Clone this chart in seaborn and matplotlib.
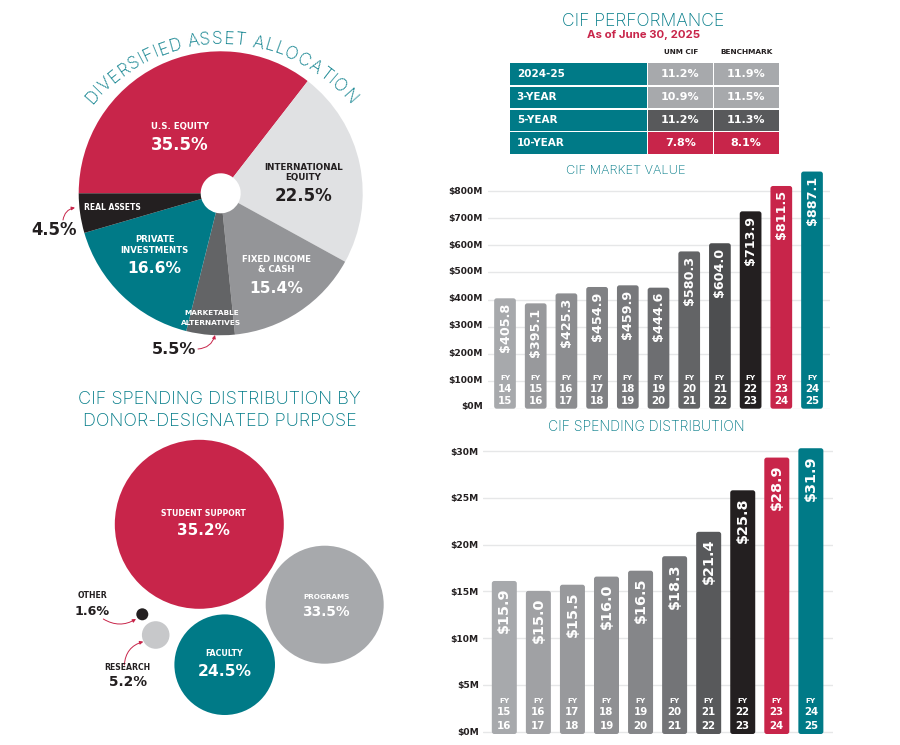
import matplotlib
matplotlib.use("Agg")
import matplotlib.pyplot as plt
import seaborn as sns
import pandas as pd
import numpy as np
from matplotlib.patches import FancyBboxPatch, FancyArrowPatch, Rectangle
from matplotlib.textpath import TextPath
from matplotlib.font_manager import FontProperties
from matplotlib.transforms import ScaledTranslation

# ---- data ----
asset_names = ['U.S. Equity', 'International Equity', 'Fixed Income & Cash',
               'Marketable Alternatives', 'Private Investments', 'Real Assets']
asset_pct = [35.5, 22.5, 15.4, 5.5, 16.6, 4.5]

perf_rows = ['2024-25', '3-YEAR', '5-YEAR', '10-YEAR']
perf_cif = ['11.2%', '10.9%', '11.2%', '7.8%']
perf_bench = ['11.9%', '11.5%', '11.3%', '8.1%']

market_fy_a = ['14', '15', '16', '17', '18', '19', '20', '21', '22', '23', '24']
market_fy_b = ['15', '16', '17', '18', '19', '20', '21', '22', '23', '24', '25']
market_labels = ['$405.8', '$395.1', '$425.3', '$454.9', '$459.9', '$444.6',
                 '$580.3', '$604.0', '$713.9', '$811.5', '$887.1']
# heights as drawn in the reference, which differ a little from the printed labels
market_heights = [405, 386.5, 423, 446.5, 452.6, 444, 577, 607, 724, 817, 870]
market_ticks = [0, 100, 200, 300, 400, 500, 600, 700, 800]

spend_fy_a = ['15', '16', '17', '18', '19', '20', '21', '22', '23', '24']
spend_fy_b = ['16', '17', '18', '19', '20', '21', '22', '23', '24', '25']
spend_labels = ['$15.9', '$15.0', '$15.5', '$16.0', '$16.5', '$18.3',
                '$21.4', '$25.8', '$28.9', '$31.9']
spend_heights = [16.1, 15.04, 15.7, 16.57, 17.2, 18.75, 21.36, 25.8, 29.3, 30.3]
spend_ticks = [0, 5, 10, 15, 20, 25, 30]

purpose_names = ['STUDENT SUPPORT', 'PROGRAMS', 'FACULTY', 'RESEARCH', 'OTHER']
purpose_pct = ['35.2%', '33.5%', '24.5%', '5.2%', '1.6%']

# ---- colours ----
crimson = '#c8254a'
teal = '#007a87'
ink = '#231f20'
title_teal = '#007a87'
asset_colors = [crimson, '#e0e1e3', '#949598', '#636466', teal, ink]
market_colors = ['#a7a9ac', '#98999c', '#8c8d90', '#808184', '#77787b', '#6d6e71',
                 '#636466', '#4d4e50', ink, crimson, teal]
spend_colors = ['#a7a9ac', '#a0a1a4', '#98999c', '#8f9093', '#858689', '#737477',
                '#58595b', ink, crimson, teal]

sns.set_style("whitegrid")
plt.rcParams['font.family'] = ['DejaVu Sans']
plt.rcParams['grid.color'] = '#e6e7e8'
plt.rcParams['grid.linewidth'] = 1.0

W, H = 900, 745
fig = plt.figure(figsize=(W / 100, H / 100), dpi=100)


def px_axes(left, top, right, bottom):
    return fig.add_axes([left / W, 1 - bottom / H, (right - left) / W, (bottom - top) / H])


# ---- pie ----
cx, cy, radius = 220.7, 193.3, 142
ax_pie = px_axes(cx - radius, cy - radius, cx + radius, cy + radius)
ax_pie.pie(asset_pct, colors=asset_colors, startangle=180, counterclock=False, radius=1,
           wedgeprops=dict(width=1 - 20 / radius, linewidth=0))
ax_pie.set_xlim(-1, 1)
ax_pie.set_ylim(-1, 1)


# ---- bar charts ----
def bar_chart(rect, fy_a, fy_b, labels, heights, colors, ticks, ylim, xlim, width,
              tick_fmt, label_size, label_pad, fy_offsets, tick_pad, tick_nudge=None):
    ax = px_axes(*rect)
    df = pd.DataFrame({'year': [f'FY{a}-{b}' for a, b in zip(fy_a, fy_b)], 'value': heights})
    sns.barplot(data=df, x='year', y='value', hue='year', palette=colors, legend=False,
                dodge=False, width=width, ax=ax, saturation=1)
    ax.set_xlim(*xlim)
    ax.set_ylim(*ylim)
    ax.set_xlabel('')
    ax.set_ylabel('')
    ax.set_xticks([])
    ax.set_yticks(ticks)
    ax.set_yticklabels([tick_fmt.format(t) for t in ticks], fontsize=6.6, fontweight='bold', color=ink)
    ax.tick_params(axis='y', length=0, pad=tick_pad)
    ax.grid(True, axis='y')
    ax.grid(False, axis='x')
    ax.set_axisbelow(True)
    sns.despine(ax=ax, left=True, bottom=True)
    ax.patch.set_alpha(0)

    # swap the square bars for rounded ones
    x_per_px = (xlim[1] - xlim[0]) / (rect[2] - rect[0])
    y_per_px = (ylim[1] - ylim[0]) / (rect[3] - rect[1])
    for bar in list(ax.patches):
        x0, w, h = bar.get_x(), bar.get_width(), bar.get_height()
        rounded = FancyBboxPatch((x0, ylim[0]), w, h - ylim[0],
                                 boxstyle=f'round,pad=0,rounding_size={2.5 * x_per_px}',
                                 mutation_aspect=y_per_px / x_per_px,
                                 facecolor=bar.get_facecolor(), edgecolor='none', zorder=3)
        ax.add_patch(rounded)
        bar.remove()

    for i in range(len(labels)):
        ax.annotate(labels[i], xy=(i, heights[i]), xytext=(0, -label_pad), textcoords='offset points',
                    rotation=90, ha='center', va='top', color='white', fontsize=label_size,
                    fontweight='bold', zorder=4)
        ax.annotate('FY', xy=(i, ylim[0]), xytext=(0, fy_offsets[0]), textcoords='offset points',
                    ha='center', va='center', color='white', fontsize=5.2, fontweight='bold', zorder=4)
        ax.annotate(fy_a[i], xy=(i, ylim[0]), xytext=(0, fy_offsets[1]), textcoords='offset points',
                    ha='center', va='center', color='white', fontsize=7.4, fontweight='bold', zorder=4)
        ax.annotate(fy_b[i], xy=(i, ylim[0]), xytext=(0, fy_offsets[2]), textcoords='offset points',
                    ha='center', va='center', color='white', fontsize=7.4, fontweight='bold', zorder=4)

    if tick_nudge:
        for lab, dy in zip(ax.get_yticklabels(), tick_nudge):
            lab.set_transform(lab.get_transform() + ScaledTranslation(0, dy / 100, fig.dpi_scale_trans))
    return ax


bar_chart((488, 165, 830, 408.7), market_fy_a, market_fy_b, market_labels, market_heights,
          market_colors, market_ticks, (0, 894), (-0.554, 10.586), 0.707, '${}M', 9.2, 3,
          (21.8, 14.2, 5.5), 3.6, tick_nudge=[3, 2.3, 2, 2, 1.7, 2, 0.7, 0, 0])
bar_chart((483.3, 440, 833, 734), spend_fy_a, spend_fy_b, spend_labels, spend_heights,
          spend_colors, spend_ticks, (-0.267, 31.18), (-0.617, 9.65), 0.734, '${}M', 10.4, 5,
          (24, 15.6, 5.8), 3.3)

# ---- everything placed in reference pixels goes on a full-figure overlay ----
ov = fig.add_axes([0, 0, 1, 1], zorder=10)
ov.set_xlim(0, W)
ov.set_ylim(H, 0)
ov.axis('off')
ov.patch.set_alpha(0)


def label(x, y, s, size=6, color='white', weight='bold', **kw):
    ov.text(x, y, s, fontsize=size, color=color, fontweight=weight, ha=kw.pop('ha', 'center'),
            va='center', **kw)


def title(x, y, s, size, color=title_teal, weight='light'):
    ov.text(x, y, s, fontsize=size, color=color, fontweight=weight, family='Inter',
            ha='center', va='center')


def arrow(start, end, rad):
    ov.add_patch(FancyArrowPatch(start, end, connectionstyle=f'arc3,rad={rad}', arrowstyle='-|>',
                                 mutation_scale=5, color=crimson, lw=0.7, shrinkA=0, shrinkB=0))


# curved title around the pie
curve_text = 'DIVERSIFIED ASSET ALLOCATION'
curve_size = 12.5
curve_fp = FontProperties(family='Inter', weight='light', size=curve_size)
arc_cx, arc_cy, arc_r = 220.7, 210, 166
xx_w = TextPath((0, 0), 'xx', prop=curve_fp).get_extents().width
adv = np.array([TextPath((0, 0), 'x' + c + 'x', prop=curve_fp).get_extents().width - xx_w
                for c in curve_text])
adv = adv / adv.sum() * np.radians(102)
angles = np.cumsum(adv) - adv / 2 - np.radians(51)
for ch, th in zip(curve_text, angles):
    ov.text(arc_cx + arc_r * np.sin(th), arc_cy - arc_r * np.cos(th), ch, fontsize=curve_size,
            family='Inter', fontweight='light', color=title_teal, rotation=-np.degrees(th),
            rotation_mode='anchor', ha='center', va='baseline')

# pie labels
label(180, 127, 'U.S. EQUITY', 6.2)
label(180, 145.3, f'{asset_pct[0]}%', 12)
label(303.3, 167, 'INTERNATIONAL', 6.3, color=ink)
label(303.3, 177.7, 'EQUITY', 6.3, color=ink)
label(303.3, 195.7, f'{asset_pct[1]}%', 12, color=ink)
label(276.7, 259.3, 'FIXED INCOME', 6.1)
label(276.7, 270, '& CASH', 6.1)
label(276.7, 288.3, f'{asset_pct[2]}%', 11.2)
label(212, 312.7, 'MARKETABLE', 5.3)
label(211, 322.7, 'ALTERNATIVES', 5.3)
label(174.3, 350, f'{asset_pct[3]}%', 11.5, color=ink)
label(154.7, 239.7, 'PRIVATE', 6.1)
label(154.7, 250.3, 'INVESTMENTS', 6.1)
label(154.7, 268.3, f'{asset_pct[4]}%', 11.2)
label(112.3, 208, 'REAL ASSETS', 5.5)
label(54.3, 230, f'{asset_pct[5]}%', 11.9, color=ink)
arrow((63, 220), (75, 207.7), -0.35)
arrow((198, 349), (215, 335), 0.35)

# performance table
title(642.8, 21.5, 'CIF PERFORMANCE', 12.6)
title(643.3, 35.5, 'As of June 30, 2025', 8.2, color=crimson, weight='bold')
label(681, 52.3, 'UNM CIF', 5.2, color=ink)
label(746.3, 52.3, 'BENCHMARK', 5.3, color=ink)
row_tops = [63.3, 86.7, 109.7, 132.3]
row_bottoms = [84.7, 108, 131, 154]
row_fill = ['#a7a9ac', '#a7a9ac', '#58595b', crimson]
for i in range(4):
    t, b = row_tops[i], row_bottoms[i]
    ov.add_patch(Rectangle((510, t), 137, b - t, facecolor=teal, edgecolor='none'))
    ov.add_patch(Rectangle((648.3, t), 64.4, b - t, facecolor=row_fill[i], edgecolor='none'))
    ov.add_patch(Rectangle((714, t), 64.7, b - t, facecolor=row_fill[i], edgecolor='none'))
    label(516.7, (t + b) / 2, perf_rows[i], 7.5, ha='left')
    label(680.5, (t + b) / 2, perf_cif[i], 8)
    label(746.3, (t + b) / 2, perf_bench[i], 8)

title(626, 170.5, 'CIF MARKET VALUE', 9.2)
title(646, 427, 'CIF SPENDING DISTRIBUTION', 10)

# spending by purpose bubbles
title(219.3, 399.3, 'CIF SPENDING DISTRIBUTION BY', 13)
title(220, 421.3, 'DONOR-DESIGNATED PURPOSE', 13)

bubble_x = [199.3, 324.7, 224.7, 155.7, 142.3]
bubble_y = [524.3, 604.7, 664.7, 635, 614.3]
bubble_r = np.array([84.5, 59, 50.3, 13.8, 6])
bubble_colors = [crimson, '#a7a9ac', teal, '#c7c8ca', ink]
sns.scatterplot(x=bubble_x, y=bubble_y, s=(2 * bubble_r * 0.72) ** 2, hue=purpose_names,
                palette=bubble_colors, legend=False, linewidth=0, ax=ov, clip_on=False)
ov.set_xlim(0, W)
ov.set_ylim(H, 0)
ov.axis('off')

label(203.3, 513, purpose_names[0], 5.6)
label(203.3, 530.7, purpose_pct[0], 11)
label(326.3, 596.7, purpose_names[1], 5.2)
label(326.3, 611.7, purpose_pct[1], 9.8)
label(224.3, 654, purpose_names[2], 5.7)
label(224.3, 671, purpose_pct[2], 11.2)
label(127.7, 667, purpose_names[3], 5.6, color=ink)
label(127.7, 682.3, purpose_pct[3], 9.9, color=ink)
label(92, 596, purpose_names[4], 5.6, color=ink)
label(92, 611.7, purpose_pct[4], 9.2, color=ink)
arrow((103.3, 619), (136, 619), 0.3)
arrow((124.3, 665), (143.3, 641.7), -0.35)

fig.savefig('out.png', dpi=100)
